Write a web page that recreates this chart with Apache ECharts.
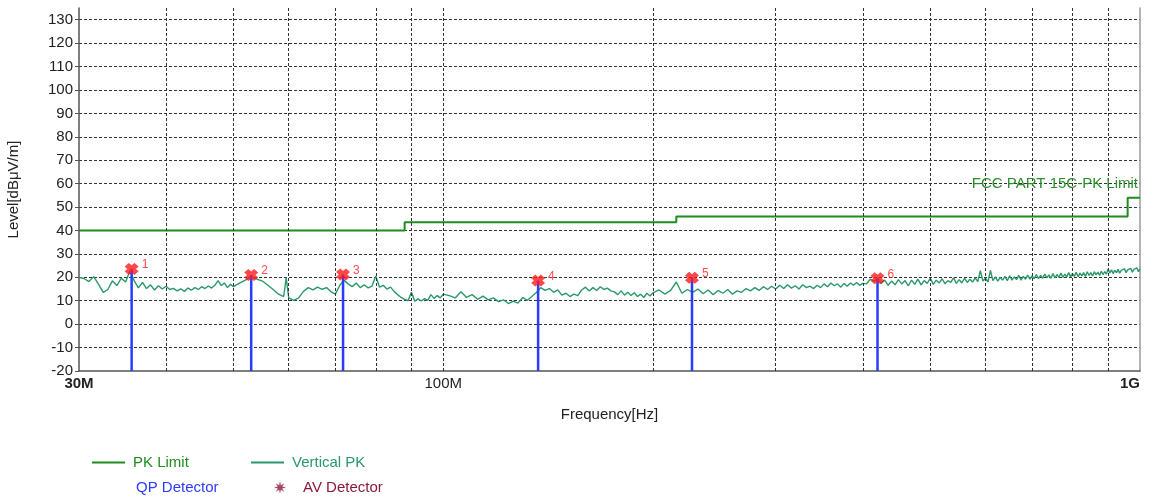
<!DOCTYPE html>
<html>
<head>
<meta charset="utf-8">
<script src="https://cdn.jsdelivr.net/npm/echarts@6/dist/echarts.min.js"></script>
<style>
  html, body { margin: 0; padding: 0; background: #fff; }
  #chart { width: 1160px; height: 502px; }
</style>
</head>
<body>
<div id="chart"></div>
<script>
// FCC Part 15C peak limit (MHz, dBuV/m), step breakpoints
const limitSteps = [[30, 40], [88, 40], [88, 43.5], [216, 43.5], [216, 46], [960, 46], [960, 54], [1000, 54]];

// Vertical polarisation peak sweep, grouped by sweep segment (MHz, dBuV/m)
const vpk30to50 = [[30,20],[30.5,19.5],[31,18.2],[31.5,20.3],[32,17],[32.5,13.6],[33,14.8],[33.5,18.5],[34,16.5],[34.5,19.6],[35,18],[35.5,22.8],[36,18.6],[36.5,15.5],[37,17.8],[37.5,15.2],[38,16.8],[38.5,14.6],[39,16.4],[39.5,15],[40,16.2],[40.5,14.8],[41,15.3],[41.5,14.2],[42,15.1],[42.5,14],[43,15.4],[43.5,14.5],[44,15.6],[44.5,14.8],[45,16],[45.5,15.2],[46,16.3],[46.5,15.4],[47,16.6],[47.5,18.6],[48,16.5],[48.5,17.6],[49,15.6],[49.5,17],[50,16]];
const vpk51to100 = [[51,17.5],[52,18.8],[53,20.4],[54,19.2],[55,18.4],[56,16.6],[57,14.8],[58,12.8],[59,11.8],[59.5,19.8],[60,11.2],[61,10.2],[62,11.2],[63,14],[64,15.6],[65,14.6],[66,15.8],[67,14.9],[68,15.6],[69,13.8],[70,12.8],[71,16.5],[72,18.8],[73,17.2],[74,16],[75,17.6],[76,15.6],[77,16.8],[78,15.5],[79,16.2],[80,20.6],[81,15.8],[82,16.6],[83,15],[84,15.8],[85,14],[86,12.6],[87,11.4],[88,10.6],[89,10],[90,13.6],[91,9.8],[92,10.8],[93,9.9],[94,10.9],[95,10.2],[96,12.6],[97,11],[98,12.2],[99,11.2],[100,12.8]];
const vpk102to200 = [[102,12.2],[104,11.2],[106,13.8],[108,11.4],[110,12.6],[112,10.6],[114,12],[116,10.4],[118,11.2],[120,9.6],[122,10.4],[124,8.8],[126,9.8],[128,9],[130,11.4],[132,10.2],[134,11.8],[136,13.5],[138,15.6],[140,14.4],[142,15.2],[144,13.6],[146,14.6],[148,12.4],[150,13.2],[152,11.8],[154,12.8],[156,12.2],[158,14.6],[160,15.8],[162,14.2],[164,15.6],[166,14.4],[168,16],[170,14.8],[172,15.4],[174,14.2],[176,13.8],[178,12.6],[180,14.2],[182,12.4],[184,13.6],[186,12.2],[188,13.4],[190,11.8],[192,12.8],[194,11.4],[196,13.2],[198,12],[200,13.4]];
const vpk204to400 = [[204,14.6],[208,12.8],[212,14.4],[216,18],[220,13.2],[224,14.8],[228,13.6],[232,15],[236,13],[240,14.6],[244,12.6],[248,14.4],[252,13.2],[256,14.8],[260,12.8],[264,14.2],[268,13.6],[272,15.2],[276,14.2],[280,15.6],[284,14.4],[288,16],[292,14.8],[296,16.2],[300,15],[304,16.6],[308,15.2],[312,16.8],[316,15.4],[320,16.4],[324,15],[328,16.8],[332,15.6],[336,16.2],[340,15.2],[344,16.6],[348,15.6],[352,17.2],[356,16],[360,17.6],[364,16.4],[368,17.2],[372,15.8],[376,17.4],[380,16.2],[384,17.6],[388,16.6],[392,17.8],[396,16.6],[400,17.4]];
const vpk405to1000 = [[405,17.2],[410,19.2],[415,18.4],[420,19.4],[425,17.4],[430,18.8],[435,16.6],[440,18.4],[445,16.8],[450,19],[455,17.2],[460,18.6],[465,16.4],[470,18.8],[475,17],[480,19.2],[485,16.8],[490,18.6],[495,17.4],[500,19.6],[505,17],[510,18.8],[515,17.6],[520,19.4],[525,17.2],[530,18.6],[535,17.8],[540,19.8],[545,17.4],[550,19],[555,17.6],[560,19.6],[565,17.8],[570,19.2],[575,18],[580,19.8],[585,18.2],[590,22.8],[595,18.4],[600,19.6],[605,18],[610,23],[615,18.6],[620,20.2],[625,18.4],[630,20],[635,18.8],[640,20.4],[645,18.6],[650,20.6],[655,18.8],[660,20.2],[665,19],[670,20.8],[675,18.8],[680,20.4],[685,19.2],[690,21],[695,19.2],[700,20.6],[705,19.4],[710,21.2],[715,19.4],[720,20.8],[725,19.6],[730,21.4],[735,19.8],[740,21],[745,19.6],[750,21.6],[755,19.8],[760,21.2],[765,20],[770,21.8],[775,20],[780,21.4],[785,20.2],[790,22],[795,20.2],[800,21.6],[805,20.4],[810,22.2],[815,20.2],[820,21.8],[825,20.6],[830,22],[835,20.4],[840,22.4],[845,20.8],[850,22],[855,20.6],[860,22.4],[865,21],[870,22.2],[875,20.8],[880,22.6],[885,21.2],[890,22.4],[895,21.4],[900,23.6],[905,21.8],[910,23.2],[915,21.6],[920,23],[925,22],[930,23.4],[935,21.8],[940,23],[945,22.2],[950,23.6],[955,22],[960,23.2],[965,22.4],[970,23.8],[975,22.2],[980,23.4],[985,22.6],[990,24],[995,22.4],[1000,23.6]];

// Marked peaks
const peakFreqs = [35.7, 53.0, 71.8, 136.8, 227.5, 420];
const peakLevels = [23.6, 21.0, 21.2, 18.6, 19.8, 19.6];

// Frequency grid lines (MHz)
const gridFreqs = [40, 50, 60, 70, 80, 90, 100, 200, 300, 400, 500, 600, 700, 800, 900];

const FONT = '"Liberation Sans", Arial, sans-serif';
const C_LIMIT = '#1f8c1f';
const C_TRACE = '#2a9868';
const C_QP = '#2b3bff';
const C_AV = '#8b1a3a';
const C_MARK = '#ff1a1a';

const verticalPk = [].concat(vpk30to50, vpk51to100, vpk102to200, vpk204to400, vpk405to1000);
const peaks = peakFreqs.map((f, i) => [f, peakLevels[i]]);

const crossPath = 'path://M0,3 L3,0 L5,2 L7,0 L10,3 L8,5 L10,7 L7,10 L5,8 L3,10 L0,7 L2,5 Z';
const starPath = 'path://M50,0 L57.7,31.5 L85.4,14.6 L68.5,42.3 L100,50 L68.5,57.7 L85.4,85.4 L57.7,68.5 L50,100 L42.3,68.5 L14.6,85.4 L31.5,57.7 L0,50 L31.5,42.3 L14.6,14.6 L42.3,31.5 Z';

const freqLabel = v => {
  const r = Math.round(v);
  if (r === 30) return '{b|30M}';
  if (r === 1000) return '{b|1G}';
  if (r === 100) return '100M';
  return '';
};

const legendBase = {
  orient: 'horizontal',
  padding: 0,
  itemGap: 0,
  selectedMode: false,
  textStyle: { color: 'inherit', fontSize: 15, fontFamily: FONT, padding: [0, 0, 0, 3] }
};

const chart = echarts.init(document.getElementById('chart'), null, { renderer: 'canvas' });
chart.setOption({
  animation: false,
  backgroundColor: '#fff',
  textStyle: { fontFamily: FONT },
  grid: { left: 79, right: 20, top: 8, bottom: 131, containLabel: false, outerBoundsMode: 'none' },
  title: {
    text: 'FCC PART 15C-PK Limit',
    right: 22, top: 176, padding: 0,
    textStyle: { color: '#2a8f2a', fontSize: 15, fontWeight: 'normal', fontFamily: FONT }
  },
  legend: [
    Object.assign({}, legendBase, { left: 92, top: 455, itemWidth: 33, itemHeight: 2, data: [{ name: 'PK Limit', icon: 'rect' }] }),
    Object.assign({}, legendBase, { left: 251, top: 455, itemWidth: 33, itemHeight: 2, data: [{ name: 'Vertical PK', icon: 'rect' }] }),
    Object.assign({}, legendBase, {
      left: 123, top: 480, itemWidth: 5, itemHeight: 2,
      textStyle: Object.assign({}, legendBase.textStyle, { color: C_QP }),
      data: [{ name: 'QP Detector', icon: 'rect', itemStyle: { color: 'rgba(255,255,255,0)' } }]
    }),
    Object.assign({}, legendBase, { left: 274, top: 480, itemWidth: 12, itemHeight: 12, textStyle: Object.assign({}, legendBase.textStyle, { padding: [0, 0, 0, 12] }), data: [{ name: 'AV Detector', icon: starPath }] })
  ],
  xAxis: {
    type: 'log', logBase: 10, min: 30, max: 1000,
    name: 'Frequency[Hz]', nameLocation: 'middle', nameGap: 36,
    nameTextStyle: { color: '#222', fontSize: 15, fontFamily: FONT },
    axisLine: { onZero: false, lineStyle: { color: '#555', width: 1.5 } },
    axisTick: { show: false },
    splitLine: { show: false },
    axisLabel: {
      color: '#222', fontSize: 15, margin: 5, formatter: freqLabel,
      alignMaxLabel: 'right',
      rich: { b: { fontWeight: 'bold', fontSize: 15, color: '#222', fontFamily: FONT } }
    }
  },
  yAxis: [{
    type: 'value', min: -20, max: 135, interval: 10,
    name: 'Level[dBμV/m]', nameLocation: 'middle', nameGap: 58,
    nameTextStyle: { color: '#222', fontSize: 15, fontFamily: FONT },
    axisLine: { show: true, lineStyle: { color: '#555', width: 1.5 } },
    axisTick: { show: true, length: 4, lineStyle: { color: '#555' } },
    axisLabel: { color: '#222', fontSize: 15, margin: 6, showMaxLabel: false },
    splitLine: { show: true, showMaxLine: false, showMinLine: false, lineStyle: { type: [3, 2], color: '#333', width: 1 } }
  }, {
    type: 'value', min: -20, max: 135, interval: 10, position: 'right',
    axisLine: { show: true, lineStyle: { color: '#999', width: 1.5 } },
    axisTick: { show: false }, axisLabel: { show: false }, splitLine: { show: false }
  }],
  series: [
    {
      name: 'grid', type: 'line', data: [], silent: true, z: 1,
      markLine: {
        silent: true, symbol: ['none', 'none'], animation: false,
        label: { show: false },
        lineStyle: { type: [3, 2], color: '#333', width: 1 },
        data: gridFreqs.map(f => ({ xAxis: f }))
      }
    },
    {
      name: 'PK Limit', type: 'line', data: limitSteps, showSymbol: false, symbol: 'none', z: 3,
      lineStyle: { color: C_LIMIT, width: 2 }, itemStyle: { color: C_LIMIT }
    },
    {
      name: 'Vertical PK', type: 'line', data: verticalPk, showSymbol: false, symbol: 'none', z: 2,
      lineStyle: { color: C_TRACE, width: 1.4 }, itemStyle: { color: C_TRACE }
    },
    {
      name: 'QP Detector', type: 'custom', data: peaks, z: 4,
      itemStyle: { color: C_QP },
      renderItem: (params, api) => {
        const top = api.coord([api.value(0), api.value(1)]);
        const bottom = api.coord([api.value(0), -20]);
        return {
          type: 'line',
          shape: { x1: top[0], y1: top[1], x2: bottom[0], y2: bottom[1] },
          style: { stroke: C_QP, lineWidth: 2.5 }
        };
      }
    },
    {
      name: 'AV Detector', type: 'scatter', data: [], symbol: starPath, itemStyle: { color: C_AV }
    },
    {
      name: 'peaks', type: 'scatter', data: peaks, z: 5,
      symbol: crossPath, symbolSize: [14, 12],
      itemStyle: { color: C_MARK },
      label: {
        show: true, position: 'right', distance: 3, offset: [0, -4],
        color: C_MARK, fontSize: 12, fontFamily: FONT,
        formatter: p => String(p.dataIndex + 1)
      }
    }
  ]
});
</script>
</body>
</html>
